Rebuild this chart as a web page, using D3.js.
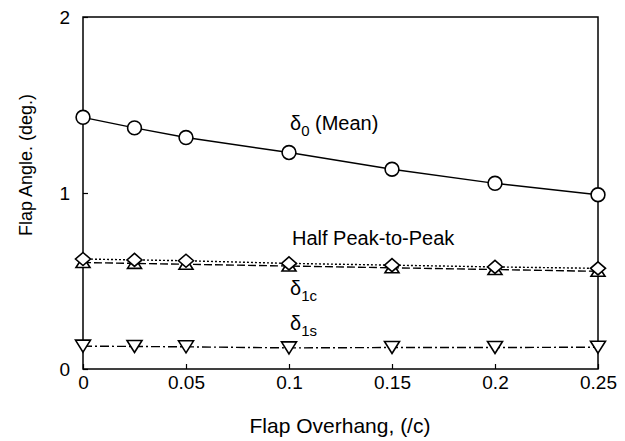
<!DOCTYPE html>
<html>
<head>
<meta charset="utf-8">
<script src="https://cdn.jsdelivr.net/npm/d3@7"></script>
<style>
  body { margin: 0; background: #fff; }
  text { font-family: "Liberation Sans", Arial, sans-serif; fill: #000; }
</style>
</head>
<body>
<div id="chart"></div>
<script>
// Data
const overhang = [0, 0.025, 0.05, 0.1, 0.15, 0.2, 0.25];
const meanAngle = [1.43, 1.37, 1.315, 1.23, 1.135, 1.055, 0.99];
const halfPeak = [0.625, 0.62, 0.615, 0.6, 0.59, 0.58, 0.572];
const delta1c = [0.605, 0.6, 0.595, 0.585, 0.575, 0.565, 0.555];
const delta1s = [0.13, 0.128, 0.126, 0.12, 0.122, 0.122, 0.124];
const xTicks = [0, 0.05, 0.1, 0.15, 0.2, 0.25];
const yTicks = [0, 1, 2];

const width = 625, height = 441;
const margin = { top: 17, right: 27, bottom: 72, left: 83 };

const svg = d3.select("#chart").append("svg")
    .attr("width", width)
    .attr("height", height);

const x = d3.scaleLinear().domain([0, 0.25]).range([margin.left, width - margin.right]);
const y = d3.scaleLinear().domain([0, 2]).range([height - margin.bottom, margin.top]);

// frame
svg.append("rect")
   .attr("x", x(0)).attr("y", y(2))
   .attr("width", x(0.25) - x(0)).attr("height", y(0) - y(2))
   .attr("fill", "none").attr("stroke", "#000").attr("stroke-width", 1.5);

// axes with inward ticks
svg.append("g")
   .attr("transform", `translate(0, ${y(0)})`)
   .call(d3.axisBottom(x).tickValues(xTicks).tickSize(-5).tickPadding(7).tickFormat(d3.format("")))
   .call(g => g.select(".domain").remove())
   .call(g => g.selectAll("line").attr("stroke-width", 1.2))
   .call(g => g.selectAll("text").attr("font-size", 19).attr("font-family", "Liberation Sans, Arial, sans-serif"));

svg.append("g")
   .attr("transform", `translate(${x(0)}, 0)`)
   .call(d3.axisLeft(y).tickValues(yTicks).tickSize(-5).tickPadding(13).tickFormat(d3.format("d")))
   .call(g => g.select(".domain").remove())
   .call(g => g.selectAll("line").attr("stroke-width", 1.2))
   .call(g => g.selectAll("text").attr("font-size", 19).attr("font-family", "Liberation Sans, Arial, sans-serif"));

// axis labels
svg.append("text")
   .attr("x", 340).attr("y", 433)
   .attr("font-size", 21)
   .style("text-anchor", "middle")
   .text("Flap Overhang, (/c)");

svg.append("text")
   .attr("transform", `translate(32, 165) rotate(-90)`)
   .attr("font-size", 18)
   .style("text-anchor", "middle")
   .text("Flap Angle. (deg.)");

// custom marker shapes
const diamond = { draw(c) { c.moveTo(0, -6.5); c.lineTo(7.5, 0); c.lineTo(0, 6.5); c.lineTo(-7.5, 0); c.closePath(); } };
const triUp = { draw(c) { c.moveTo(0, -6); c.lineTo(7, 5); c.lineTo(-7, 5); c.closePath(); } };
const triDown = { draw(c) { c.moveTo(0, 6); c.lineTo(7.5, -6); c.lineTo(-7.5, -6); c.closePath(); } };

// series (δ1c drawn before the diamonds so the diamonds sit on top)
const series = [
  { values: meanAngle, dash: null, symbol: d3.symbolCircle, size: 150 },
  { values: delta1c, dash: "8,3", symbol: triUp, size: 64 },
  { values: halfPeak, dash: "2,2", symbol: diamond, size: 64 },
  { values: delta1s, dash: "9,3,2,3", symbol: triDown, size: 64 }
];

const line = d3.line().x((d, i) => x(overhang[i])).y(d => y(d));

series.forEach(s => {
  svg.append("path")
     .datum(s.values)
     .attr("d", line)
     .attr("fill", "none")
     .attr("stroke", "#000")
     .attr("stroke-width", 1.4)
     .attr("stroke-dasharray", s.dash);
});

series.forEach(s => {
  svg.selectAll(null)
     .data(s.values)
     .enter()
     .append("path")
     .attr("d", d3.symbol().type(s.symbol).size(s.size))
     .attr("transform", (d, i) => `translate(${x(overhang[i])}, ${y(d)})`)
     .attr("fill", "#fff")
     .attr("stroke", "#000")
     .attr("stroke-width", 1.6);
});

// annotations
const note = (xp, yp, main, sub, rest) => {
  const t = svg.append("text").attr("x", xp).attr("y", yp).attr("font-size", 20);
  t.append("tspan").text(main);
  if (sub) t.append("tspan").attr("dy", 6).attr("font-size", 15).text(sub);
  if (rest) t.append("tspan").attr("dy", -6).text(rest);
};
note(290, 130, "δ", "0", " (Mean)");
note(292, 245, "Half Peak-to-Peak");
note(290, 295, "δ", "1c");
note(290, 330, "δ", "1s");
</script>
</body>
</html>
